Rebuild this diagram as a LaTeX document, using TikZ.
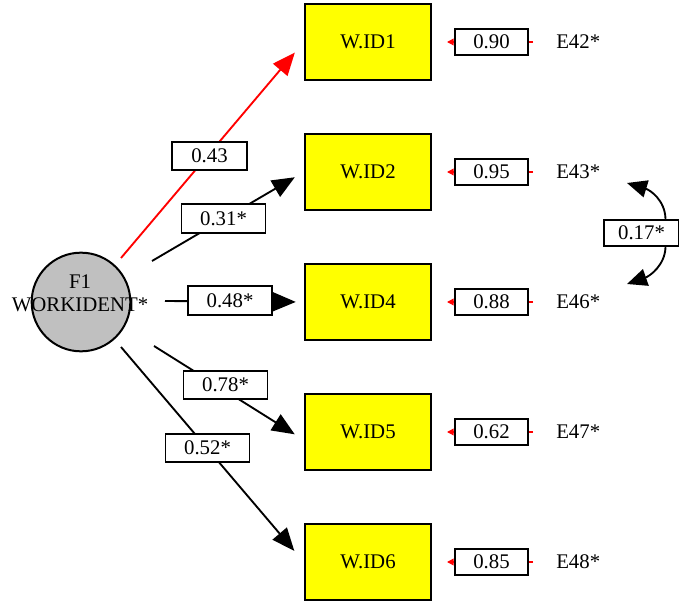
\documentclass[tikz,border=0pt]{standalone}
\usepackage{fontspec}
\setmainfont{Liberation Serif}
\usetikzlibrary{arrows.meta}
\definecolor{boxyellow}{RGB}{255,255,0}
\definecolor{circgray}{RGB}{192,192,192}
\begin{document}
\begin{tikzpicture}[x=0.75pt,y=-0.75pt,
  every node/.style={font=\fontsize{15.6}{18}\selectfont},
  varbox/.style={draw, line width=1.8pt, fill=boxyellow, minimum width=94.5pt, minimum height=57pt, inner sep=0pt},
  coefbox/.style={draw, line width=1.3pt, fill=white, minimum width=63pt, minimum height=21.5pt, inner sep=0pt},
  errbox/.style={draw, line width=1.3pt, fill=white, minimum width=54.5pt, minimum height=19pt, inner sep=0pt},
  path/.style={line width=1.4pt, -{Triangle[length=17pt,width=14pt]}},
  errpath/.style={red, line width=1pt, -{Triangle[length=5pt,width=5pt]}},
  corr/.style={line width=1.4pt, -{Triangle[length=15pt,width=13pt]}}
]
\useasboundingbox (0,0) rectangle (679,602);

% latent factor
\node[circle, draw, line width=1.5pt, fill=circgray, minimum size=74pt, inner sep=0pt] (F1) at (81,302) {};
\node[align=center, inner sep=0pt] (F1t) at (80,293) {F1\\[-1pt]WORKIDENT*};

% observed variables
\node[varbox] (v1) at (368,42) {W.ID1};
\node[varbox] (v2) at (368,172) {W.ID2};
\node[varbox] (v4) at (368,302) {W.ID4};
\node[varbox] (v5) at (368,432) {W.ID5};
\node[varbox] (v6) at (368,562) {W.ID6};

% path starts
\coordinate (s1) at (121,258);
\coordinate (s2) at (152,261);
\coordinate (s4) at (165,301);
\coordinate (s5) at (154,346);
\coordinate (s6) at (121,347);

\draw[path, red, shorten >=10.4pt] (s1) -- (v1.west);
\draw[path, shorten >=7.8pt] (s2) -- (v2.west);
\draw[path, shorten >=6pt] (s4) -- (v4.west);
\draw[path, shorten >=8pt] (s5) -- ([yshift=-6pt]v5.west);
\draw[path, shorten >=11pt] (s6) -- (v6.west);

\node[coefbox, minimum width=56pt] (c1) at (209.5,156) {0.43};
\node[coefbox] (c2) at (223.5,218.5) {0.31*};
\node[coefbox] (c4) at (230,300.5) {0.48*};
\node[coefbox] (c5) at (225.5,385) {0.78*};
\node[coefbox] (c6) at (207.5,448) {0.52*};

% error terms
\foreach \n/\y/\val/\lab in {1/42/0.90/E42*, 2/172/0.95/E43*, 4/302/0.88/E46*, 5/432/0.62/E47*, 6/562/0.85/E48*}{
  \coordinate (ea\n) at (533,\y);
  \coordinate (eb\n) at (447,\y);
  \draw[errpath] (ea\n) -- (eb\n);
  \node[errbox] (r\n) at (491.5,\y) {\val};
  \node[anchor=west, inner sep=0pt] (E\n) at (556,\y) {\lab};
}

% correlation
\node[draw, line width=1.3pt, fill=white, minimum width=56pt, minimum height=20pt, inner sep=0pt] (cc) at (641.5,233) {0.17*};
\coordinate (ct) at (627,183);
\coordinate (cb) at (627,284);
\draw[corr] ([xshift=18pt]cc.north) .. controls (665,200) and (650,190) .. (ct);
\draw[corr] ([xshift=18pt]cc.south) .. controls (665,265) and (650,276) .. (cb);
\end{tikzpicture}
\end{document}
